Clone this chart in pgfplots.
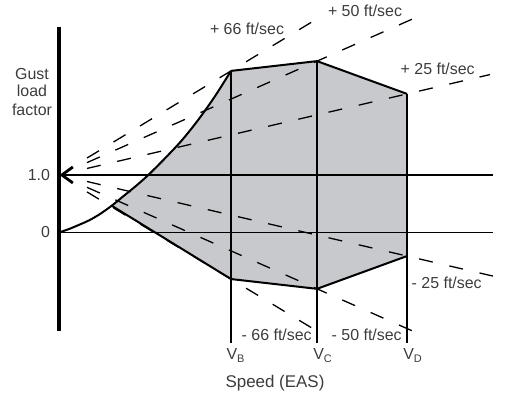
\documentclass[border=0pt]{standalone}
\usepackage{pgfplots}
\pgfplotsset{compat=1.18}
\usepackage{fontspec}
\setmainfont{Liberation Sans}
\usetikzlibrary{arrows.meta}
\definecolor{envfill}{RGB}{200,201,204}
\definecolor{txt}{RGB}{60,60,60}
\tikzset{lbl/.style={inner sep=0pt, outer sep=0pt, text=txt, font=\fontsize{16}{17.5}\selectfont}}
\begin{document}
\begin{tikzpicture}
\begin{axis}[x=1bp, y=57.5bp, xmin=-59, xmax=446, ymin=-2.843, ymax=4.043,
  hide axis, clip=false]
% invisible frame
\addplot[draw=none] coordinates {(-59,-2.843) (446,4.043)};
% envelope fill
\addplot[fill=envfill, draw=none] coordinates {(52.7,0.465)(65,0.64)(77,0.81)(89.3,1.0)(106,1.29)(122.7,1.60)(139.3,1.96)(156,2.37)(172,2.81)(258,2.98)(348,2.41)(348,-0.41)(258,-0.98)(172,-0.81)} -- cycle;
% gust lines
\pgfplotsset{gust/.style={black, line width=1.3bp, dash pattern=on 14bp off 17bp}}
\addplot[gust] coordinates {(28,1.2946) (256,3.694)};
\addplot[gust] coordinates {(28,0.7054) (254,-1.673)};
\addplot[gust] coordinates {(28,1.2149) (361,3.770)};
\addplot[gust] coordinates {(28,0.7851) (359,-1.755)};
\addplot[gust] coordinates {(28,1.1134) (431,2.746)};
\addplot[gust] coordinates {(28,0.8866) (434,-0.7585)};
% reference lines
\addplot[black, line width=1.8bp] coordinates {(0,0) (434,0)};
\addplot[black, line width=2.8bp, -{Straight Barb[length=11bp,width=16bp]}] coordinates {(434,1) (0.5,1)};
% verticals
\addplot[black, line width=2bp] coordinates {(172,2.81) (172,-1.922)};
\addplot[black, line width=2bp] coordinates {(258,2.98) (258,-1.922)};
\addplot[black, line width=2bp] coordinates {(348,2.41) (348,-1.922)};
% envelope edges
\addplot[black, line width=2bp, smooth] coordinates {(0,0)(10,0.06)(21,0.14)(30,0.21)(40,0.31)(52.7,0.465)(65,0.64)(77,0.81)(89.3,1.0)(106,1.29)(122.7,1.60)(139.3,1.96)(156,2.37)(172,2.81)};
\addplot[black, line width=2bp] coordinates {(172,2.81)(258,2.98)(348,2.41)};
\addplot[black, line width=2bp] coordinates {(52.7,0.465)(172,-0.81)(258,-0.98)(348,-0.41)};
% vertical axis
\addplot[black, line width=3.5bp] coordinates {(0,3.574) (0,-1.722)};
% labels
\node[lbl, anchor=base] at (axis cs:-27,2.652) {Gust};
\node[lbl, anchor=base] at (axis cs:-27,2.357) {load};
\node[lbl, anchor=base] at (axis cs:-27,2.043) {factor};
\node[lbl, anchor=east] at (axis cs:-9,1) {1.0};
\node[lbl, anchor=east] at (axis cs:-9,0) {0};
\node[lbl, anchor=base west] at (axis cs:151,3.435) {+ 66 ft/sec};
\node[lbl, anchor=base west] at (axis cs:269,3.748) {+ 50 ft/sec};
\node[lbl, anchor=base west] at (axis cs:341.7,2.739) {+ 25 ft/sec};
\node[lbl, anchor=base west] at (axis cs:352.7,-0.970) {- 25 ft/sec};
\node[lbl, anchor=base west] at (axis cs:182.7,-1.882) {- 66 ft/sec};
\node[lbl, anchor=base west] at (axis cs:272.7,-1.882) {- 50 ft/sec};
\node[lbl, anchor=base west] at (axis cs:167.5,-2.217) {V\raisebox{-3bp}{\fontsize{11}{11}\selectfont B}};
\node[lbl, anchor=base west] at (axis cs:254.3,-2.217) {V\raisebox{-3bp}{\fontsize{11}{11}\selectfont C}};
\node[lbl, anchor=base west] at (axis cs:344.3,-2.217) {V\raisebox{-3bp}{\fontsize{11}{11}\selectfont D}};
\node[lbl, anchor=base, font=\fontsize{17}{18}\selectfont] at (axis cs:216,-2.704) {Speed (EAS)};
\end{axis}
\end{tikzpicture}
\end{document}
